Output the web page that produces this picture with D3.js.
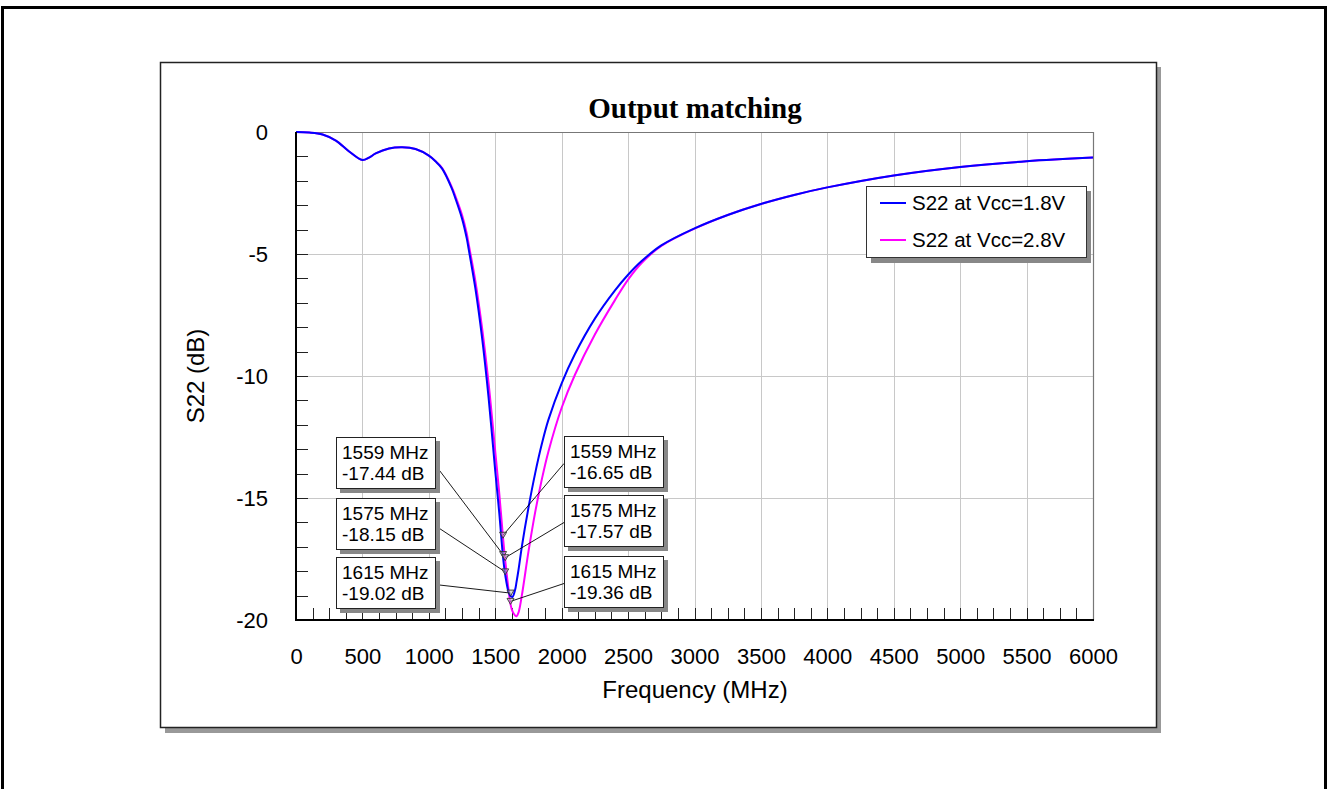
<!DOCTYPE html>
<html>
<head>
<meta charset="utf-8">
<script src="https://cdn.jsdelivr.net/npm/d3@7"></script>
<style>
body { margin: 0; background: #fff; }
svg { display: block; font-family: "Liberation Sans", Arial, sans-serif; }
</style>
</head>
<body>
<div id="chart"></div>
<script>
// frequency points (MHz), shared by both traces
var freqs = [0, 100, 200, 300, 400, 500, 550, 600, 700, 800, 900, 1000, 1050, 1100, 1172, 1200, 1250, 1285, 1300,
    1350, 1400, 1450, 1500, 1530, 1559, 1575, 1600, 1615, 1630, 1650, 1660, 1675, 1700, 1750, 1800, 1850,
    1900, 2000, 2100, 2250, 2400, 2500, 2600, 2750, 3000, 3250, 3500, 3750, 4000, 4500, 5000, 5500, 6000]

// S22 (dB) at Vcc = 1.8V
var s22Low = [0, -0.02, -0.1, -0.35, -0.8, -1.15, -1.05, -0.88, -0.68, -0.63, -0.7, -0.97, -1.2, -1.5, -2.3, -2.72, -3.55, -4.35, -4.8,
    -6.4, -8.4, -10.9, -13.9, -15.6, -17.44, -18.15, -18.85, -19.02, -19.05, -18.75, -18.45, -17.95, -17.0, -15.4, -14.0, -12.8,
    -11.8, -10.3, -9.1, -7.65, -6.5, -5.85, -5.3, -4.65, -3.95, -3.4, -2.95, -2.58, -2.27, -1.78, -1.43, -1.2, -1.05]

// S22 (dB) at Vcc = 2.8V
var s22High = [0, -0.02, -0.1, -0.35, -0.8, -1.15, -1.05, -0.88, -0.68, -0.63, -0.7, -0.97, -1.2, -1.48, -2.25, -2.63, -3.4, -4.15, -4.6,
    -6.1, -8.0, -10.3, -13.1, -14.8, -16.65, -17.57, -18.75, -19.36, -19.65, -19.82, -19.85, -19.7, -19.0, -17.2, -15.6, -14.25,
    -13.1, -11.3, -9.95, -8.3, -6.9, -6.05, -5.38, -4.67, -3.96, -3.4, -2.95, -2.58, -2.27, -1.78, -1.43, -1.2, -1.05]

var seriesNames = ["S22 at Vcc=1.8V", "S22 at Vcc=2.8V"]
var seriesColors = ["#0000ff", "#ff00ff"]

var xTicks = d3.range(0, 6001, 500)
var yTicks = [0, -5, -10, -15, -20]

// marker readouts
var markerFreq = [1559, 1575, 1615, 1559, 1575, 1615]
var markerDb = [-17.44, -18.15, -19.02, -16.65, -17.57, -19.36]
var markerSide = ["left", "left", "left", "right", "right", "right"]
var markerRow = [0, 1, 2, 0, 1, 2]

var W = 1328, H = 789
var plot = {left: 296, top: 132, right: 1093, bottom: 620}

var svg = d3.select("#chart").append("svg")
    .attr("width", W)
    .attr("height", H)

// outer frame
svg.append("rect")
    .attr("x", 2.5).attr("y", 7.5)
    .attr("width", 1323).attr("height", 800)
    .attr("fill", "none")
    .attr("stroke", "#000")
    .attr("stroke-width", 3)

// panel with drop shadow
svg.append("rect")
    .attr("x", 165).attr("y", 67)
    .attr("width", 996).attr("height", 666)
    .attr("fill", "#999")
svg.append("rect")
    .attr("x", 160.5).attr("y", 62.5)
    .attr("width", 996).attr("height", 665)
    .attr("fill", "#fff")
    .attr("stroke", "#222")
    .attr("stroke-width", 1.5)

var x = d3.scaleLinear().domain([0, 6000]).range([plot.left, plot.right])
var y = d3.scaleLinear().domain([-20, 0]).range([plot.bottom, plot.top])

// grid
var grid = svg.append("g").attr("class", "grid")
grid.selectAll(".vgrid")
    .data(xTicks.filter(function(d) { return d > 0 && d < 6000 }))
    .enter().append("line")
    .attr("x1", function(d) { return Math.round(x(d)) + 0.5 })
    .attr("x2", function(d) { return Math.round(x(d)) + 0.5 })
    .attr("y1", plot.top).attr("y2", plot.bottom)
    .attr("stroke", "#c8c8c8")
grid.selectAll(".hgrid")
    .data(yTicks.filter(function(d) { return d < 0 && d > -20 }))
    .enter().append("line")
    .attr("x1", plot.left).attr("x2", plot.right)
    .attr("y1", function(d) { return Math.round(y(d)) + 0.5 })
    .attr("y2", function(d) { return Math.round(y(d)) + 0.5 })
    .attr("stroke", "#c8c8c8")

// top and right border
svg.append("path")
    .attr("d", "M" + plot.left + "," + (plot.top + 0.5) + "H" + (plot.right + 0.5) + "V" + plot.bottom)
    .attr("fill", "none")
    .attr("stroke", "#777")
    .attr("stroke-width", 1.2)

// minor ticks, inward
svg.append("g").selectAll("line")
    .data(d3.range(-19, 0, 1))
    .enter().append("line")
    .attr("x1", plot.left).attr("x2", plot.left + 12)
    .attr("y1", function(d) { return Math.round(y(d)) + 0.5 })
    .attr("y2", function(d) { return Math.round(y(d)) + 0.5 })
    .attr("stroke", "#222")
svg.append("g").selectAll("line")
    .data(d3.range(125, 6000, 125))
    .enter().append("line")
    .attr("x1", function(d) { return Math.round(x(d)) + 0.5 })
    .attr("x2", function(d) { return Math.round(x(d)) + 0.5 })
    .attr("y1", plot.bottom).attr("y2", plot.bottom - 12)
    .attr("stroke", "#222")

// curves
var line = d3.line()
    .x(function(d) { return x(d[0]) })
    .y(function(d) { return y(d[1]) })
    .curve(d3.curveCatmullRom.alpha(0.5))

var traces = [d3.zip(freqs, s22Low), d3.zip(freqs, s22High)]
svg.append("g").selectAll("path")
    .data([1, 0])
    .enter().append("path")
    .attr("d", function(i) { return line(traces[i]) })
    .attr("fill", "none")
    .attr("stroke", function(i) { return seriesColors[i] })
    .attr("stroke-width", 2)

// axes lines (left + bottom)
svg.append("path")
    .attr("d", "M" + plot.left + "," + plot.top + "V" + plot.bottom + "H" + (plot.right + 1))
    .attr("fill", "none")
    .attr("stroke", "#000")
    .attr("stroke-width", 2)

// tick labels via d3 axes (plain hyphen for negatives)
var fmt = function(d) { return String(d) }

var xAxis = svg.append("g")
    .attr("transform", "translate(0," + plot.bottom + ")")
    .call(d3.axisBottom(x).tickValues(xTicks).tickSize(0).tickPadding(28).tickFormat(fmt))
xAxis.select(".domain").remove()
xAxis.selectAll("text")
    .attr("fill", "#000")
    .style("font-size", "22px")
    .style("font-family", "Liberation Sans, Arial, sans-serif")

var yAxis = svg.append("g")
    .attr("transform", "translate(" + plot.left + ",0)")
    .call(d3.axisLeft(y).tickValues(yTicks).tickSize(0).tickPadding(28).tickFormat(fmt))
yAxis.select(".domain").remove()
yAxis.selectAll("text")
    .attr("fill", "#000")
    .style("font-size", "22px")
    .style("font-family", "Liberation Sans, Arial, sans-serif")

// titles
svg.append("text")
    .attr("x", 695).attr("y", 118)
    .attr("text-anchor", "middle")
    .style("font-family", "Liberation Serif, Times New Roman, serif")
    .style("font-weight", "bold")
    .style("font-size", "29px")
    .text("Output matching")

svg.append("text")
    .attr("x", 695).attr("y", 698)
    .attr("text-anchor", "middle")
    .style("font-size", "24px")
    .text("Frequency (MHz)")

svg.append("text")
    .attr("transform", "translate(204,376)rotate(-90)")
    .attr("text-anchor", "middle")
    .style("font-size", "24px")
    .text("S22 (dB)")

// legend
var legend = svg.append("g")
legend.append("rect")
    .attr("x", 871).attr("y", 191)
    .attr("width", 220).attr("height", 72)
    .attr("fill", "#888")
legend.append("rect")
    .attr("x", 866.5).attr("y", 186.5)
    .attr("width", 220).attr("height", 71)
    .attr("fill", "#fff")
    .attr("stroke", "#333")
var legendRow = legend.selectAll(".row")
    .data(seriesNames)
    .enter().append("g")
    .attr("class", "row")
    .attr("transform", function(d, i) { return "translate(0," + (203 + i * 37) + ")" })
legendRow.append("line")
    .attr("x1", 880).attr("x2", 906)
    .attr("stroke", function(d, i) { return seriesColors[i] })
    .attr("stroke-width", 2)
legendRow.append("text")
    .attr("x", 912).attr("y", 7)
    .style("font-size", "20.5px")
    .text(function(d) { return d })

// marker readouts
var boxW = 99, boxH = 51
var leftBoxY = [437, 498, 557], rightBoxY = [436, 495, 556]
var marks = d3.range(markerFreq.length).map(function(i) {
    var side = markerSide[i]
    return {
        f: markerFreq[i], db: markerDb[i], side: side,
        bx: side == "left" ? 336 : 564,
        by: side == "left" ? leftBoxY[markerRow[i]] : rightBoxY[markerRow[i]]
    }
})

var ann = svg.append("g")
ann.selectAll(".leader")
    .data(marks)
    .enter().append("line")
    .attr("x1", function(d) { return d.side == "left" ? d.bx + boxW : d.bx })
    .attr("y1", function(d) { return d.by + boxH / 2 + 2 })
    .attr("x2", function(d) { return x(d.f) })
    .attr("y2", function(d) { return y(d.db) - 3 })
    .attr("stroke", "#000")
    .attr("stroke-width", 0.9)

ann.selectAll(".tri")
    .data(marks)
    .enter().append("path")
    .attr("d", function(d) {
        var px = x(d.f), py = y(d.db)
        return "M" + (px - 3.5) + "," + (py - 6) + "L" + (px + 3.5) + "," + (py - 6) + "L" + px + "," + py + "Z"
    })
    .attr("fill", "#bbb")
    .attr("fill-opacity", 0.5)
    .attr("stroke", "#333")
    .attr("stroke-width", 0.9)

var box = ann.selectAll(".box")
    .data(marks)
    .enter().append("g")
    .attr("transform", function(d) { return "translate(" + d.bx + "," + d.by + ")" })
box.append("rect")
    .attr("x", 4).attr("y", 4)
    .attr("width", boxW + 1).attr("height", boxH + 1)
    .attr("fill", "#888")
box.append("rect")
    .attr("x", 0.5).attr("y", 0.5)
    .attr("width", boxW).attr("height", boxH)
    .attr("fill", "#fff")
    .attr("stroke", "#222")
box.append("text")
    .attr("x", 6).attr("y", 22)
    .style("font-size", "19px")
    .text(function(d) { return d.f + " MHz" })
box.append("text")
    .attr("x", 6).attr("y", 43)
    .style("font-size", "19px")
    .text(function(d) { return d.db.toFixed(2) + " dB" })
</script>
</body>
</html>
